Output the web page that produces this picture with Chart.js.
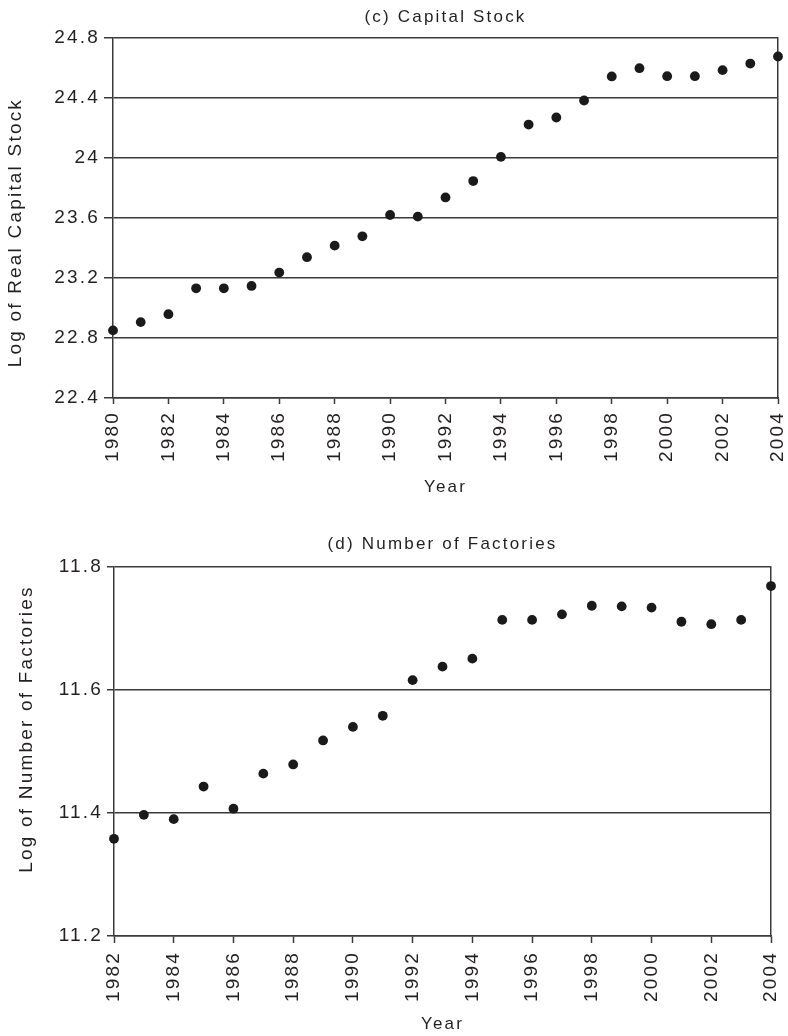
<!DOCTYPE html>
<html>
<head>
<meta charset="utf-8">
<script src="https://cdn.jsdelivr.net/npm/chart.js@4/dist/chart.umd.min.js"></script>
<style>
  html, body { margin: 0; padding: 0; background: #fff; }
  canvas { display: block; }
</style>
</head>
<body>
<canvas id="capital" width="788" height="510"></canvas>
<canvas id="factories" width="788" height="526"></canvas>
<script>
// ---- Data: (c) Capital Stock ----
const capYears = [1980,1981,1982,1983,1984,1985,1986,1987,1988,1989,1990,1991,1992,1993,1994,1995,1996,1997,1998,1999,2000,2001,2002,2003,2004];
const capValues = [22.85,22.905,22.958,23.13,23.13,23.146,23.235,23.337,23.414,23.476,23.618,23.607,23.735,23.844,24.005,24.22,24.267,24.38,24.54,24.595,24.542,24.542,24.582,24.626,24.673];
const capXTicks = [1980,1982,1984,1986,1988,1990,1992,1994,1996,1998,2000,2002,2004];
const capYTicks = [22.4,22.8,23.2,23.6,24,24.4,24.8];
const capYTickLabels = ['22.4','22.8','23.2','23.6','24','24.4','24.8'];

// ---- Data: (d) Number of Factories ----
const facYears = [1982,1983,1984,1985,1986,1987,1988,1989,1990,1991,1992,1993,1994,1995,1996,1997,1998,1999,2000,2001,2002,2003,2004];
const facValues = [11.358,11.397,11.390,11.443,11.407,11.464,11.479,11.518,11.540,11.558,11.616,11.638,11.651,11.714,11.714,11.723,11.737,11.736,11.734,11.711,11.707,11.714,11.769];
const facXTicks = [1982,1984,1986,1988,1990,1992,1994,1996,1998,2000,2002,2004];
const facYTicks = [11.2,11.4,11.6,11.8];
const facYTickLabels = ['11.2','11.4','11.6','11.8'];

const FONT = "'Liberation Sans', Arial, Helvetica, sans-serif";
const LS = '2.2px';
const TEXT = '#231f20';
const LINE = '#3a3a3a';

const spacingPlugin = {
  id: 'spacing',
  beforeLayout(chart) { chart.ctx.letterSpacing = LS; },
  beforeDraw(chart) { chart.ctx.letterSpacing = LS; }
};

function makeChart(id, cfg) {
  const points = cfg.years.map((x, i) => ({ x: x, y: cfg.values[i] }));
  return new Chart(document.getElementById(id), {
    type: 'scatter',
    data: {
      datasets: [{
        data: points,
        pointRadius: 4.9,
        pointHoverRadius: 4.9,
        pointBackgroundColor: '#1a1a1a',
        pointBorderWidth: 0,
        clip: false
      }]
    },
    plugins: [spacingPlugin],
    options: {
      responsive: false,
      animation: false,
      devicePixelRatio: 1,
      layout: { padding: 0, autoPadding: false },
      plugins: {
        legend: { display: false },
        tooltip: { enabled: false },
        title: {
          display: true,
          text: cfg.title,
          fullSize: false,
          color: TEXT,
          font: { family: FONT, size: 17, weight: 'normal' },
          padding: { top: cfg.titlePadTop, bottom: cfg.titlePadBottom }
        }
      },
      scales: {
        x: {
          type: 'linear',
          position: 'bottom',
          min: cfg.xTicks[0],
          max: cfg.xTicks[cfg.xTicks.length - 1],
          afterBuildTicks: (axis) => { axis.ticks = cfg.xTicks.map(v => ({ value: v })); },
          afterFit: (scale) => { scale.height = cfg.xHeight; scale.paddingLeft = 0; scale.paddingRight = 0; },
          ticks: {
            autoSkip: false,
            minRotation: 90,
            maxRotation: 90,
            padding: cfg.xTickPad,
            color: TEXT,
            font: { family: FONT, size: 19 },
            callback: (v) => String(v)
          },
          grid: {
            display: true,
            drawOnChartArea: false,
            drawTicks: true,
            tickLength: cfg.xTickLen,
            tickColor: LINE,
            tickWidth: 1.5
          },
          border: { display: true, color: LINE, width: 1.5 },
          title: {
            display: true,
            text: 'Year',
            color: TEXT,
            font: { family: FONT, size: 17 },
            padding: { top: 0, bottom: cfg.xTitlePadBottom }
          }
        },
        y: {
          type: 'linear',
          position: 'left',
          min: cfg.yTicks[0],
          max: cfg.yTicks[cfg.yTicks.length - 1],
          afterBuildTicks: (axis) => { axis.ticks = cfg.yTicks.map(v => ({ value: v })); },
          afterFit: (scale) => { scale.width = cfg.yWidth; scale.paddingTop = 0; scale.paddingBottom = 0; },
          ticks: {
            padding: cfg.yTickPad,
            color: TEXT,
            font: { family: FONT, size: 19 },
            callback: (v, i) => cfg.yTickLabels[i]
          },
          grid: {
            display: true,
            drawOnChartArea: true,
            drawTicks: true,
            tickLength: cfg.yTickLen,
            color: LINE,
            lineWidth: 1.5
          },
          border: { display: true, color: LINE, width: 1.5 },
          title: {
            display: true,
            text: cfg.yTitle,
            color: TEXT,
            font: { family: FONT, size: 19 },
            padding: { top: cfg.yTitlePadTop, bottom: 0 }
          }
        },
        yRight: {
          type: 'linear',
          position: 'right',
          display: true,
          afterFit: (scale) => { scale.width = cfg.rightWidth; scale.paddingTop = 0; scale.paddingBottom = 0; },
          ticks: { display: false },
          grid: { display: false, drawTicks: false },
          border: { display: true, color: LINE, width: 1.5 },
          title: { display: false }
        }
      }
    }
  });
}

makeChart('capital', {
  title: '(c) Capital Stock',
  years: capYears, values: capValues,
  xTicks: capXTicks, yTicks: capYTicks, yTickLabels: capYTickLabels,
  yTitle: 'Log of Real Capital Stock    ',
  titlePadTop: 7, titlePadBottom: 10,
  xHeight: 112, xTickLen: 6, xTickPad: 7, xTitlePadBottom: 12,
  yWidth: 113, yTickLen: 9, yTickPad: 4, yTitlePadTop: 4,
  rightWidth: 10
});

makeChart('factories', {
  title: '(d) Number of Factories',
  years: facYears, values: facValues,
  xTicks: facXTicks, yTicks: facYTicks, yTickLabels: facYTickLabels,
  yTitle: '      Log of Number of Factories',
  titlePadTop: 24, titlePadBottom: 12.6,
  xHeight: 100, xTickLen: 7, xTickPad: 8, xTitlePadBottom: 1,
  yWidth: 114, yTickLen: 7, yTickPad: 4, yTitlePadTop: 15,
  rightWidth: 17
});
</script>
</body>
</html>
